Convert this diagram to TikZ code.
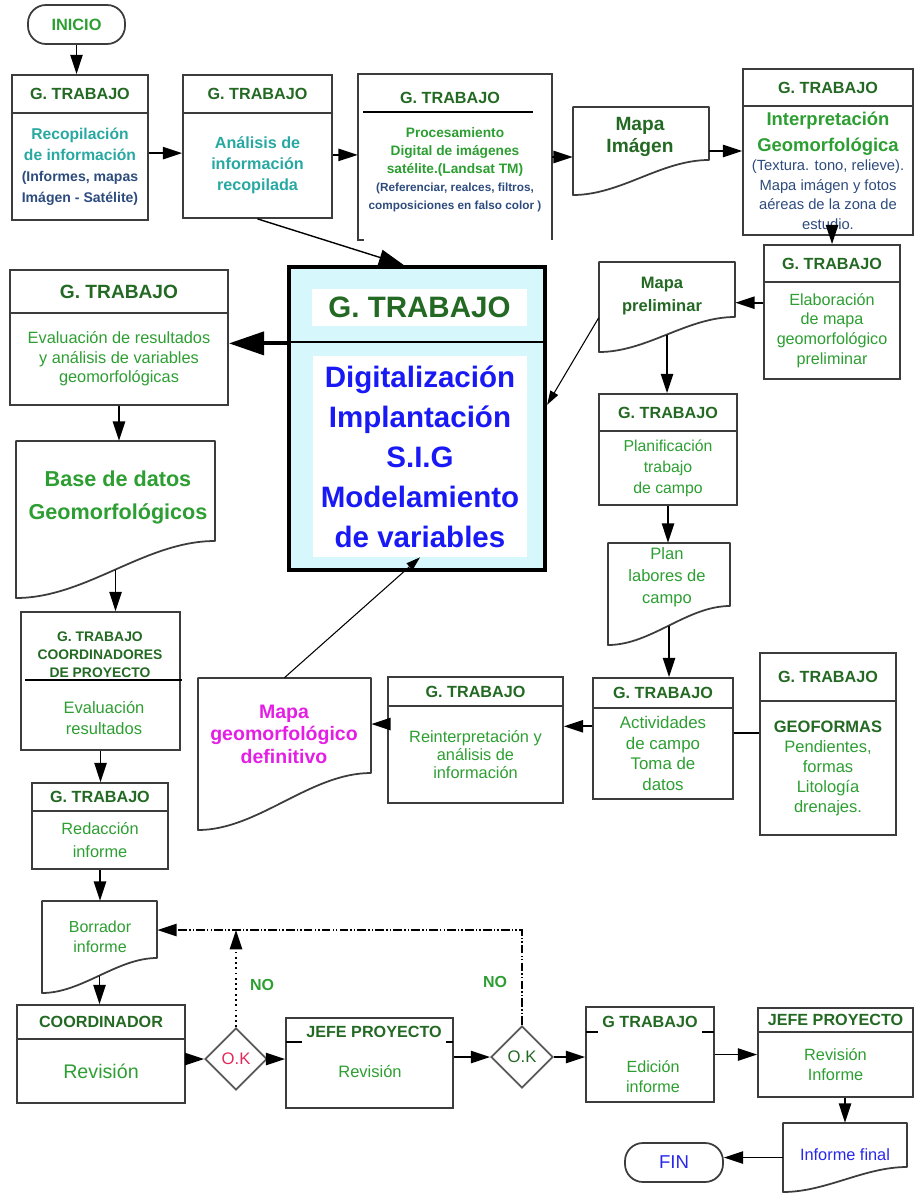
\documentclass[tikz,border=0pt]{standalone}
\usepackage{fontspec}
\setmainfont{Liberation Sans}
\usepackage{tikz}
\usetikzlibrary{arrows.meta, fit, shapes.geometric}

\definecolor{hdrgreen}{RGB}{35,105,35}
\definecolor{bodygreen}{RGB}{45,158,50}
\definecolor{tealc}{RGB}{40,168,162}
\definecolor{grayblue}{RGB}{45,75,125}
\definecolor{sigblue}{RGB}{25,25,245}
\definecolor{sigcyan}{RGB}{214,248,252}
\definecolor{magc}{RGB}{228,30,228}
\definecolor{okred}{RGB}{228,40,90}
\definecolor{finblue}{RGB}{40,40,235}
\definecolor{boxgray}{RGB}{60,60,60}

\begin{document}
\begin{tikzpicture}[x=0.02cm, y=-0.02cm,
	sz/.style 2 args={minimum width=#1*0.02cm, minimum height=#2*0.02cm},
	box/.style={draw=boxgray, line width=1pt, inner sep=0pt},
	hdr/.style={font=\bfseries\fontsize{9.2}{11}\selectfont, text=hdrgreen, align=center},
	txt/.style={font=\fontsize{9.2}{11.4}\selectfont, text=bodygreen, align=center},
	docline/.style={draw=boxgray, line width=1pt, fill=white, line join=round},
	term/.style={draw=boxgray, line width=1pt, rounded corners=0.36cm, inner sep=0pt},
	okbox/.style={diamond, draw=boxgray!85, line width=1pt, minimum width=1.24cm, minimum height=1.24cm, inner sep=0pt, font=\fontsize{9.5}{11}\selectfont},
	arr/.style={line width=1pt, -{Triangle[length=11pt, width=7pt]}},
	thinarr/.style={line width=0.6pt, -{Triangle[length=8pt, width=5pt]}},
	midarr/.style={line width=0.8pt, -{Triangle[length=14pt, width=9pt]}},
	bigarr/.style={line width=2.4pt, -{Triangle[length=20pt, width=13pt]}}]
	
	\useasboundingbox (0,0) rectangle (914,1193);
	
	\node (inicio) [term, sz={97}{39}, font=\bfseries\fontsize{9.3}{11}\selectfont, text=bodygreen] at (76.5,24.5) {INICIO};
	
	% top row
	\node (recoph) [box, hdr, sz={136}{38}] at (80,94) {G. TRABAJO};
	\node (recop) [box, sz={136}{107}, align=center, font=\bfseries\fontsize{8.9}{12}\selectfont, text=tealc] at (80,166.5) {Recopilación\\de información\\{\fontsize{8}{10}\selectfont\color{grayblue}(Informes, mapas}\\{\fontsize{8}{10}\selectfont\color{grayblue}Imágen - Satélite)}};
	
	\node (analisish) [box, hdr, sz={149}{38}] at (257.5,94) {G. TRABAJO};
	\node (analisis) [box, sz={149}{105}, align=center, font=\bfseries\fontsize{9.2}{12}\selectfont, text=tealc] at (257.5,165.5) {Análisis de\\información\\recopilada};
	
	\node (proces) [inner sep=0pt, fit={(358,74)(552,240)}] {};
	\draw[draw=boxgray, line width=1pt] (364,240) -- (358,240) -- (358,74) -- (552,74) -- (552,240);
	\draw[line width=1pt] (363,112) -- (533,112);
	\node (procesh) [hdr] at (450,98) {G. TRABAJO};
	\node (procest) [align=center, font=\bfseries\fontsize{7.8}{10.2}\selectfont, text=bodygreen] at (455,170) {Procesamiento\\Digital de imágenes\\satélite.(Landsat TM)\\{\fontsize{6.7}{8}\selectfont\color{grayblue}(Referenciar, realces, filtros,}\\{\fontsize{6.7}{8}\selectfont\color{grayblue}composiciones en falso color )}};
	
	\node (mapaimg) [inner sep=0pt, fit={(573,107)(709,195)}] {};
	\draw[docline] (573,195) -- (573,107) -- (709,107) -- (709,160) .. controls (661,160) and (621,195) .. (573,195) coordinate[pos=.5] (mapaimg-b) -- cycle;
	\node (mapaimgt) [align=center, font=\bfseries\fontsize{10.9}{12.6}\selectfont, text=hdrgreen] at (640,137) {Mapa\\Imágen};
	
	\node (interph) [box, hdr, sz={170}{37}] at (828,87.5) {G. TRABAJO};
	\node (interp) [box, sz={170}{129}, align=center, font=\fontsize{8.4}{11.1}\selectfont, text=bodygreen] at (828,170.5) {{\bfseries\fontsize{10.5}{12}\selectfont Interpretación}\\[3.7pt]{\bfseries\fontsize{10.5}{12}\selectfont Geomorfológica}\\{\color{grayblue}(Textura. tono, relieve).}\\{\color{grayblue}Mapa imágen y fotos}\\{\color{grayblue}aéreas de la zona de}\\{\color{grayblue}estudio.}};
	
	% right column
	\node (elabh) [box, hdr, sz={136}{37}] at (832,263.5) {G. TRABAJO};
	\node (elab) [box, txt, sz={136}{97}, font=\fontsize{9.2}{11.2}\selectfont] at (832,330.5) {Elaboración\\de mapa\\geomorfológico\\preliminar};
	
	\node (mapapre) [inner sep=0pt, fit={(599,262)(735,352)}] {};
	\draw[docline] (599,352) -- (599,262) -- (735,262) -- (735,317) .. controls (687,317) and (647,352) .. (599,352) coordinate[pos=.5] (mapapre-b) -- cycle;
	\node (mapapret) [align=center, font=\bfseries\fontsize{9.4}{13}\selectfont, text=hdrgreen] at (662,296) {Mapa\\preliminar};
	
	\node (planh) [box, hdr, sz={138}{37}] at (668,412.5) {G. TRABAJO};
	\node (plan) [box, txt, sz={138}{74}, font=\fontsize{9}{12}\selectfont] at (668,468) {Planificación\\trabajo\\de campo};
	
	\node (labores) [inner sep=0pt, fit={(608,543)(730,645)}] {};
	\draw[docline] (608,645) -- (608,543) -- (730,543) -- (730,606) .. controls (687,606) and (651,645) .. (608,645) coordinate[pos=.5] (labores-b) -- cycle;
	\node (laborest) [txt, font=\fontsize{9.4}{12.5}\selectfont] at (667,577) {Plan\\labores de\\campo};
	
	\node (activh) [box, hdr, sz={140}{30}] at (663,693) {G. TRABAJO};
	\node (activ) [box, txt, sz={140}{91}, font=\fontsize{9.6}{11.8}\selectfont] at (663,753.5) {Actividades\\de campo\\Toma de\\datos};
	
	\node (geofh) [box, hdr, sz={136}{48}] at (828,677) {G. TRABAJO};
	\node (geof) [box, txt, sz={136}{134}, font=\fontsize{9.4}{11.4}\selectfont] at (828,768) {{\bfseries\color{hdrgreen}GEOFORMAS}\\Pendientes,\\formas\\Litología\\drenajes.};
	
	\node (reinth) [box, hdr, sz={175}{29}] at (475.5,691.5) {G. TRABAJO};
	\node (reint) [box, txt, sz={175}{97}, font=\fontsize{9.3}{10.4}\selectfont] at (475.5,754.5) {Reinterpretación y\\análisis de\\información};
	
	\node (mapadef) [inner sep=0pt, fit={(198,678)(371,830)}] {};
	\draw[docline] (198,830) -- (198,678) -- (371,678) -- (371,773) .. controls (310,773) and (258,830) .. (198,830) -- cycle;
	\node (mapadeft) [align=center, font=\bfseries\fontsize{11.1}{12.8}\selectfont, text=magc] at (284,734) {Mapa\\geomorfológico\\definitivo};
	
	% central box
	\node (sig) [inner sep=0pt, fit={(289,267)(545,570)}, draw=black, line width=2.4pt, fill=sigcyan] {};
	\draw[line width=1pt] (289,342) -- (545,342);
	\node (sigh) [inner sep=0pt, sz={215}{37}, fill=white, font=\bfseries\fontsize{16.8}{20}\selectfont, text=hdrgreen] at (419.5,307.5) {G. TRABAJO};
	\node (sigb) [inner sep=0pt, sz={214}{201}, fill=white, align=center, font=\bfseries\fontsize{16.8}{22.8}\selectfont, text=sigblue] at (420,456.5) {Digitalización\\Implantación\\S.I.G\\Modelamiento\\de variables};
	
	% left column
	\node (evalrh) [box, hdr, sz={218}{43}, font=\bfseries\fontsize{10.9}{13}\selectfont] at (119,291.5) {G. TRABAJO};
	\node (evalr) [box, txt, sz={218}{92}, font=\fontsize{9.3}{11.1}\selectfont] at (119,359) {Evaluación de resultados\\y análisis de variables\\geomorfológicas};
	
	\node (based) [inner sep=0pt, fit={(16,441)(215,598)}] {};
	\draw[docline] (16,598) -- (16,441) -- (215,441) -- (215,541) .. controls (145,541) and (86,598) .. (16,598) coordinate[pos=.5] (based-b) -- cycle;
	\node (basedt) [align=center, font=\bfseries\fontsize{12.3}{18.8}\selectfont, text=bodygreen] at (118,497) {Base de datos\\Geomorfológicos};
	
	\node (coord) [box, fit={(21,612)(180,750)}] {};
	\draw[line width=1pt] (25,680) -- (182,680);
	\node (coordh) [hdr, font=\bfseries\fontsize{7.9}{10.3}\selectfont] at (100,655) {G. TRABAJO\\COORDINADORES\\DE PROYECTO};
	\node (coordt) [txt, font=\fontsize{9.4}{11.4}\selectfont] at (104,718) {Evaluación\\resultados};
	
	\node (redach) [box, hdr, sz={136}{28}] at (100,797) {G. TRABAJO};
	\node (redac) [box, txt, sz={136}{58}, font=\fontsize{9.3}{13}\selectfont] at (100,840) {Redacción\\informe};
	
	\node (borrad) [inner sep=0pt, fit={(42,901)(157,993)}] {};
	\draw[docline] (42,993) -- (42,901) -- (157,901) -- (157,958) .. controls (117,958) and (82,993) .. (42,993) coordinate[pos=.5] (borrad-b) -- cycle;
	\node (borradt) [txt, font=\fontsize{9.1}{11.5}\selectfont] at (100,937) {Borrador\\informe};
	
	% bottom row
	\node (coordrh) [box, hdr, sz={168}{34}] at (101,1022) {COORDINADOR};
	\node (coordr) [box, txt, sz={168}{64}, font=\fontsize{11.2}{13}\selectfont] at (101,1071) {Revisión};
	
	\node (ok1) [okbox, text=okred] at (236,1059) {O.K};
	
	\node (jefe1) [box, fit={(286,1018)(453,1108)}] {};
	\draw[line width=1pt] (286,1042) -- (302,1042) (446,1042) -- (453,1042);
	\node (jefe1h) [hdr] at (374,1032) {JEFE PROYECTO};
	\node (jefe1t) [txt, font=\fontsize{9.4}{11}\selectfont] at (370,1071) {Revisión};
	
	\node (ok2) [okbox, text=hdrgreen] at (522,1057) {O.K};
	
	\node (edic) [box, fit={(586,1007)(714,1102)}] {};
	\draw[line width=1pt] (586,1032) -- (598,1032) (702,1032) -- (714,1032);
	\node (edich) [hdr] at (650,1022) {G TRABAJO};
	\node (edict) [txt, font=\fontsize{9.2}{11.4}\selectfont] at (653,1077) {Edición\\informe};
	
	\node (jefe2h) [box, hdr, sz={155}{24}] at (835.5,1020) {JEFE PROYECTO};
	\node (jefe2) [box, txt, sz={155}{65}, font=\fontsize{9.3}{11.4}\selectfont] at (835.5,1064.5) {Revisión\\Informe};
	
	\node (final) [inner sep=0pt, fit={(783,1123)(907,1192)}] {};
	\draw[docline] (783,1192) -- (783,1123) -- (907,1123) -- (907,1167) .. controls (864,1167) and (826,1192) .. (783,1192) -- cycle;
	\node (finalt) [font=\fontsize{9.3}{11}\selectfont, text=finblue] at (845,1155) {Informe final};
	
	\node (fin) [term, sz={98}{39}, font=\fontsize{10.6}{12}\selectfont, text=finblue] at (674,1162.5) {FIN};
	
	\node (no1) [font=\bfseries\fontsize{9.1}{11}\selectfont, text=bodygreen] at (262,985) {NO};
	\node (no2) [font=\bfseries\fontsize{9.1}{11}\selectfont, text=bodygreen] at (495,982) {NO};
	\coordinate (ret) at (519,930);
	
	% connectors
	\draw[arr] (inicio.south) -- (inicio.south |- recoph.north);
	\draw[arr] (recop.11) -- (recop.11 -| analisis.west);
	\draw[arr] (analisis.8) -- (analisis.8 -| proces.west);
	\draw[arr] (proces.east) -- (proces.east -| mapaimg.west);
	\draw[arr] (mapaimg.east) -- (mapaimg.east -| interp.west);
	\draw[arr] (elabh.north |- interp.south) -- (elabh.north);
	\draw[arr] (elab.158) -- (elab.158 -| mapapre.east);
	\draw[thinarr] (mapapre.189) -- (sig.6);
	\draw[arr] (mapapre-b) -- (mapapre-b |- planh.north);
	\draw[arr] (plan.south) -- (plan.south |- labores.north);
	\draw[arr] (labores-b) -- (labores-b |- activh.north);
	\draw[arr] (activ.159) -- (activ.159 -| reint.east);
	\draw[line width=1pt] (activ.16) -- (activ.16 -| geof.west);
	\draw[arr] (reint.161) -- (reint.161 -| mapadef.east);
	\draw[thinarr] (mapadef.north) -- (sigb.south);
	\draw[midarr] (analisis.south) -- (sig.95);
	\draw[bigarr] (sig.150) -- (sig.150 -| evalr.east);
	\draw[arr] (evalr.south) -- (evalr.south |- based.north);
	\draw[arr] (based-b) -- (based-b |- coord.north);
	\draw[arr] (coord.south) -- (coord.south |- redach.north);
	\draw[arr] (redac.south) -- (redac.south |- borrad.north);
	\draw[arr] (borrad-b) -- (borrad-b |- coordrh.north);
	\draw[arr] (coordr.east |- ok1.west) -- (ok1.west);
	\draw[arr] (ok1.east) -- (ok1.east -| jefe1.west);
	\draw[arr] (jefe1.east |- ok2.west) -- (ok2.west);
	\draw[arr] (ok2.east) -- (ok2.east -| edic.west);
	\draw[arr] (edic.east) -- (edic.east -| jefe2.west);
	\draw[arr] (final.north |- jefe2.south) -- (final.north);
	\draw[arr] (final.west) -- (final.west -| fin.east);
	% NO returns
	\draw[arr, dash pattern=on 5pt off 1.2pt on 0.8pt off 1.2pt on 0.8pt off 1.2pt] (ok2.north) -- (ok2.north |- ret) -- (ret -| borrad.east);
	\draw[arr, dotted] (ok1.north) -- (ok1.north |- ret);
	
\end{tikzpicture}
\end{document}
